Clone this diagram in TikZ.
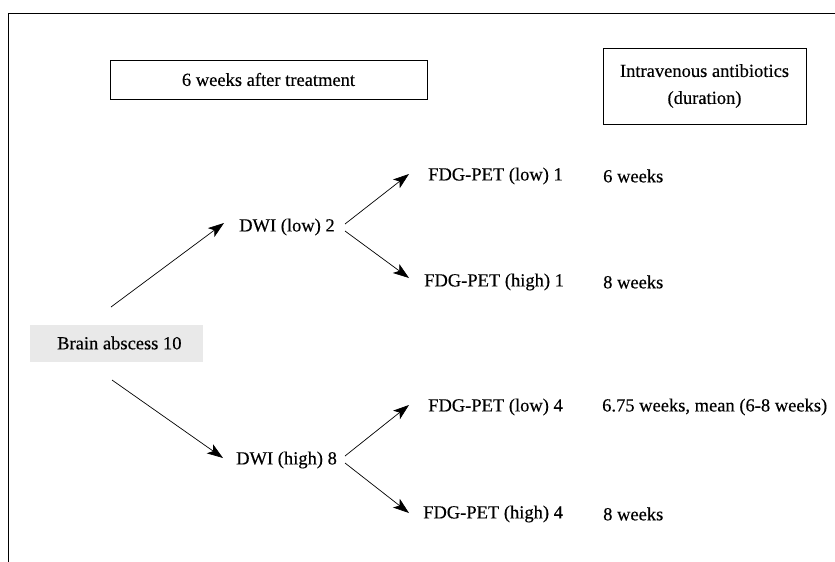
\documentclass[tikz,border=0pt]{standalone}
\usepackage{fontspec}
\setmainfont{Liberation Serif}
\newfontfamily\lblfont[FakeBold=0.35]{Liberation Serif}
\usetikzlibrary{arrows.meta}
\begin{document}
\begin{tikzpicture}[x=1pt,y=-1pt,
  lbl/.style={anchor=west,inner sep=0pt,font=\lblfont\fontsize{18.5}{26}\selectfont},
  hdr/.style={draw,line width=0.8pt,inner sep=0pt,font=\lblfont\fontsize{18.5}{27}\selectfont,align=center},
  arr/.style={line width=0.7pt,-{Stealth[length=16pt,width=11pt,inset=4pt]}},
  frame/.style={line width=1pt}]
\useasboundingbox (0,0) rectangle (835,562);
% frame (top and left)
\coordinate (ftr) at (835,13);
\coordinate (ftl) at (8.5,13);
\coordinate (fbl) at (8.5,562);
\draw[frame] (ftr) -- (ftl) -- (fbl);
% header boxes
\node[hdr,minimum width=317pt,minimum height=39pt] (hA) at (268.5,79.5) {6 weeks after treatment};
\node[hdr,minimum width=203pt,minimum height=76pt] (hB) at (704.5,86) {Intravenous antibiotics\\(duration)};
% brain abscess
\node[fill=gray!17,minimum width=173pt,minimum height=37pt,inner sep=0pt] (brainbg) at (116.5,343.5) {};
\node[lbl] (brain) at (57,343) {Brain abscess 10};
% DWI nodes
\node[lbl] (dwil) at (239,227) {DWI (low) 2};
\node[lbl] (dwih) at (236,460) {DWI (high) 8};
% FDG-PET nodes
\node[lbl] (p1) at (428,176) {FDG-PET (low) 1};
\node[lbl] (p2) at (424,282) {FDG-PET (high) 1};
\node[lbl] (p3) at (428,407) {FDG-PET (low) 4};
\node[lbl] (p4) at (423,514) {FDG-PET (high) 4};
% durations
\node[lbl] (d1) at (603,176) {6 weeks};
\node[lbl] (d2) at (603,282) {8 weeks};
\node[lbl] (d3) at (602,407) {6.75 weeks, mean (6-8 weeks)};
\node[lbl] (d4) at (603,514) {8 weeks};
% arrow end points
\coordinate (bs1) at (111,307);
\coordinate (bs2) at (112,380);
\coordinate (be1) at (224,223);
\coordinate (be2) at (223,458);
\coordinate (ls1) at (345,224);
\coordinate (ls2) at (345,231);
\coordinate (hs1) at (345,456);
\coordinate (hs2) at (345,463);
\coordinate (pe1) at (409,174);
\coordinate (pe2) at (409,278);
\coordinate (pe3) at (409,405);
\coordinate (pe4) at (409,513);
\draw[arr] (bs1) -- (be1);
\draw[arr] (bs2) -- (be2);
\draw[arr] (ls1) -- (pe1);
\draw[arr] (ls2) -- (pe2);
\draw[arr] (hs1) -- (pe3);
\draw[arr] (hs2) -- (pe4);
\end{tikzpicture}
\end{document}
